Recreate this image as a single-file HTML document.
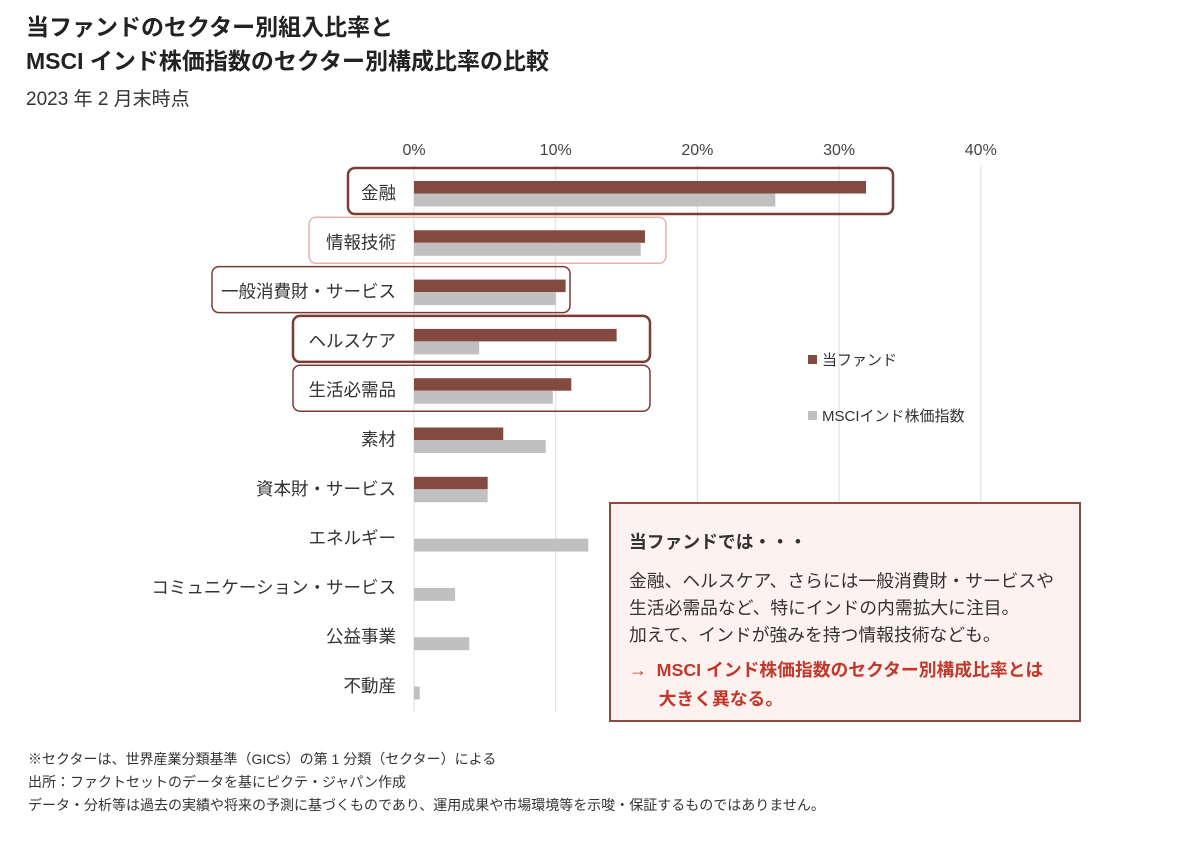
<!DOCTYPE html>
<html><head><meta charset="utf-8">
<style>
body{margin:0;background:#fff;width:1200px;height:847px;overflow:hidden;font-family:"Liberation Sans","Noto Sans CJK JP",sans-serif;color:#333}
.t{position:absolute;white-space:nowrap}
</style></head><body>
<div class="t" style="left:26px;top:10px;font-size:23px;font-weight:bold;line-height:34px;color:#222">当ファンドのセクター別組入比率と<br>MSCI インド株価指数のセクター別構成比率の比較</div>
<div class="t" style="left:26px;top:84px;font-size:19px;color:#333">2023 年 2 月末時点</div>
<svg id="chart" width="1200" height="847" style="position:absolute;left:0;top:0"></svg>
<div style="position:absolute;left:609px;top:502px;width:468px;height:216px;border:2px solid #8b4a42;background:#fdf2ef;font-size:17.8px;color:#333">
<div class="t" style="left:18px;top:24px;font-weight:bold">当ファンドでは・・・</div>
<div class="t" style="left:18px;top:64px;line-height:27px">金融、ヘルスケア、さらには一般消費財・サービスや<br>生活必需品など、特にインドの内需拡大に注目。<br>加えて、インドが強みを持つ情報技術なども。</div>
<div class="t" style="left:18px;top:152px;line-height:29px;color:#c0392b;font-weight:bold">→&nbsp; MSCI インド株価指数のセクター別構成比率とは<br>&nbsp;&nbsp;&nbsp;&nbsp;&nbsp;&nbsp;大きく異なる。</div>
</div>
<div class="t" style="left:28px;top:748px;font-size:14px;line-height:23px;color:#333">※セクターは、世界産業分類基準（GICS）の第 1 分類（セクター）による<br>出所：ファクトセットのデータを基にピクテ・ジャパン作成<br>データ・分析等は過去の実績や将来の予測に基づくものであり、運用成果や市場環境等を示唆・保証するものではありません。</div>
<script>
const categories=["金融","情報技術","一般消費財・サービス","ヘルスケア","生活必需品","素材","資本財・サービス","エネルギー","コミュニケーション・サービス","公益事業","不動産"];
const fundValues=[31.9,16.3,10.7,14.3,11.1,6.3,5.2,0,0,0,0];
const msciValues=[25.5,16.0,10.0,4.6,9.8,9.3,5.2,12.3,2.9,3.9,0.4];
const tickValues=[0,10,20,30,40];
const tickLabels=["0%","10%","20%","30%","40%"];
const NS="http://www.w3.org/2000/svg";
const svg=document.getElementById('chart');
const x=v=>414+v*14.17;
const yc=i=>193+i*49.3;
function mk(t,a){const e=document.createElementNS(NS,t);for(const k in a)e.setAttribute(k,a[k]);svg.appendChild(e);return e;}
tickValues.forEach((v,i)=>{
 const l=mk('line',{x1:x(v),x2:x(v),y1:165,y2:712,stroke:'#ddd','stroke-width':1});
 
 
 const t=mk('text',{x:x(v),y:155,'text-anchor':'middle','font-size':16,fill:'#444'});
 t.textContent=tickLabels[i];
 
 
});
const boxes=[[0,348,893,'#7a3b35',2.5],[1,309,666,'#e8b4a8',1.5],[2,212,570,'#7a3b35',1.5],[3,293,650,'#7a3b35',2.5],[4,293,650,'#7a3b35',1.5]];
boxes.forEach(b=>{
 const r=mk('rect',{x:b[1],y:yc(b[0])-25,width:b[2]-b[1],height:46,rx:7,fill:'none',stroke:b[3],'stroke-width':b[4]});
 
 
});
categories.forEach((c,i)=>{
 const t=mk('text',{x:396,y:yc(i)+6,'text-anchor':'end','font-size':17.5,fill:'#333'});
 t.textContent=c;
 
 
 if(fundValues[i]>0){
  const r=mk('rect',{x:x(0),y:yc(i)-12,width:x(fundValues[i])-x(0),height:12.5,fill:'#834a41'});
  
  
 }
 const r2=mk('rect',{x:x(0),y:yc(i)+0.5,width:x(msciValues[i])-x(0),height:13,fill:'#c0c0c0'});
 
 
});
const lg=[['当ファンド','#834a41',360],['MSCIインド株価指数','#c0c0c0',416]];
lg.forEach(l=>{
 const r=mk('rect',{x:808,y:l[2]-5,width:9,height:9,fill:l[1]});
 
 
 const t=mk('text',{x:822,y:l[2]+5,'font-size':15,fill:'#333'});
 t.textContent=l[0];
 
 
});
</script>
</body></html>
